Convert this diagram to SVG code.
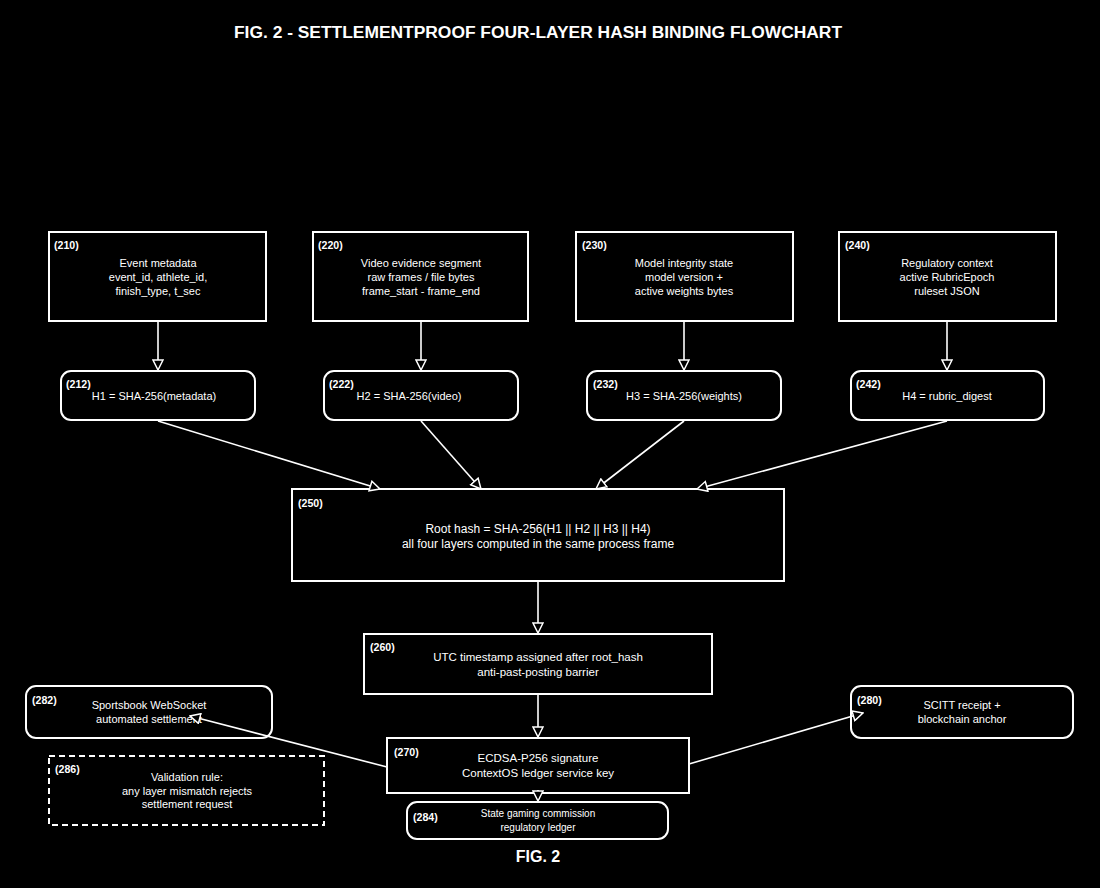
<svg xmlns="http://www.w3.org/2000/svg" width="1100" height="888" viewBox="0 0 1100 888">
<style>
.bx{fill:#000;stroke:#fff;stroke-width:2}
.ds{fill:#000;stroke:#fff;stroke-width:2;stroke-dasharray:6 4}
.t{font-family:"Liberation Sans",Arial,sans-serif;font-size:11px;fill:#fff;text-anchor:middle}
.m{font-size:11.5px}
.b{font-size:12px}
.s{font-family:"Liberation Sans",Arial,sans-serif;font-size:10px;fill:#fff;text-anchor:middle}
.l{font-family:"Liberation Sans",Arial,sans-serif;font-size:10.6px;font-weight:bold;fill:#fff}
.h{font-family:"Liberation Sans",Arial,sans-serif;font-size:17.4px;font-weight:bold;fill:#fff;text-anchor:middle}
.f{font-family:"Liberation Sans",Arial,sans-serif;font-size:16px;font-weight:bold;fill:#fff;text-anchor:middle}
.c{fill:none;stroke:#fff;stroke-width:1.6}
</style>
<defs>
<marker id="a" viewBox="0 0 12 12" refX="11" refY="6" markerWidth="12" markerHeight="12" markerUnits="userSpaceOnUse" orient="auto">
<path d="M1,1 L11,6 L1,11 Z" fill="#000" stroke="#fff" stroke-width="1.5"/>
</marker>
</defs>
<rect width="1100" height="888" fill="#000"/>
<text class="h" x="538" y="38">FIG. 2 - SETTLEMENTPROOF FOUR-LAYER HASH BINDING FLOWCHART</text>

<g id="n210"><rect class="bx" x="49" y="232" width="217" height="89"/>
<text class="l" x="54" y="249">(210)</text>
<text class="t" x="158" y="267">Event metadata</text><text class="t" x="158" y="281">event_id, athlete_id,</text><text class="t" x="158" y="295">finish_type, t_sec</text></g>

<g id="n220"><rect class="bx" x="313" y="232" width="215" height="89"/>
<text class="l" x="318" y="249">(220)</text>
<text class="t" x="421" y="267">Video evidence segment</text><text class="t" x="421" y="281">raw frames / file bytes</text><text class="t" x="421" y="295">frame_start - frame_end</text></g>

<g id="n230"><rect class="bx" x="576" y="232" width="217" height="89"/>
<text class="l" x="582" y="249">(230)</text>
<text class="t" x="684" y="267">Model integrity state</text><text class="t" x="684" y="281">model version +</text><text class="t" x="684" y="295">active weights bytes</text></g>

<g id="n240"><rect class="bx" x="839" y="232" width="217" height="89"/>
<text class="l" x="845" y="249">(240)</text>
<text class="t" x="947" y="267">Regulatory context</text><text class="t" x="947" y="281">active RubricEpoch</text><text class="t" x="947" y="295">ruleset JSON</text></g>

<g id="n212"><rect class="bx" x="61" y="371" width="194" height="49" rx="10"/>
<text class="l" x="66" y="388">(212)</text>
<text class="t" x="154" y="400">H1 = SHA-256(metadata)</text></g>

<g id="n222"><rect class="bx" x="324" y="371" width="194" height="49" rx="10"/>
<text class="l" x="329" y="388">(222)</text>
<text class="t" x="409" y="400">H2 = SHA-256(video)</text></g>

<g id="n232"><rect class="bx" x="587" y="371" width="194" height="49" rx="10"/>
<text class="l" x="593" y="388">(232)</text>
<text class="t" x="684" y="400">H3 = SHA-256(weights)</text></g>

<g id="n242"><rect class="bx" x="851" y="371" width="193" height="49" rx="10"/>
<text class="l" x="856" y="388">(242)</text>
<text class="t" x="947" y="400">H4 = rubric_digest</text></g>

<g id="n250"><rect class="bx" x="292" y="489" width="492" height="92"/>
<text class="l" x="298" y="507">(250)</text>
<text class="t b" x="538" y="533">Root hash = SHA-256(H1 || H2 || H3 || H4)</text>
<text class="t b" x="538" y="548">all four layers computed in the same process frame</text></g>

<g id="n260"><rect class="bx" x="364" y="634" width="348" height="60"/>
<text class="l" x="370" y="651">(260)</text>
<text class="t m" x="538" y="661">UTC timestamp assigned after root_hash</text>
<text class="t m" x="538" y="676">anti-past-posting barrier</text></g>

<g id="n270"><rect class="bx" x="387" y="738" width="302" height="55"/>
<text class="l" x="394" y="756">(270)</text>
<text class="t m" x="538" y="762">ECDSA-P256 signature</text>
<text class="t m" x="538" y="777">ContextOS ledger service key</text></g>

<g id="n284"><rect class="bx" x="407" y="802" width="261" height="37" rx="10"/>
<text class="l" x="413" y="821">(284)</text>
<text class="s" x="538" y="817">State gaming commission</text>
<text class="s" x="538" y="831">regulatory ledger</text></g>

<g id="n282"><rect class="bx" x="26" y="686" width="246" height="52" rx="10"/>
<text class="l" x="32" y="704">(282)</text>
<text class="t" x="149" y="709">Sportsbook WebSocket</text>
<text class="t" x="149" y="723">automated settlement</text></g>

<g id="n280"><rect class="bx" x="851" y="686" width="222" height="52" rx="10"/>
<text class="l" x="857" y="704">(280)</text>
<text class="t" x="962" y="709">SCITT receipt +</text>
<text class="t" x="962" y="723">blockchain anchor</text></g>

<g id="n286"><rect class="ds" x="49" y="756" width="275" height="69"/>
<text class="l" x="55" y="773">(286)</text>
<text class="t" x="187" y="781">Validation rule:</text>
<text class="t" x="187" y="795">any layer mismatch rejects</text>
<text class="t" x="187" y="808">settlement request</text></g>

<g id="connectors">
<line class="c" x1="158" y1="322" x2="158" y2="370" marker-end="url(#a)"/>
<line class="c" x1="421" y1="322" x2="421" y2="370" marker-end="url(#a)"/>
<line class="c" x1="684" y1="322" x2="684" y2="370" marker-end="url(#a)"/>
<line class="c" x1="947" y1="322" x2="947" y2="370" marker-end="url(#a)"/>
<line class="c" x1="158" y1="421" x2="380" y2="489" marker-end="url(#a)"/>
<line class="c" x1="421" y1="421" x2="481" y2="489" marker-end="url(#a)"/>
<line class="c" x1="684" y1="421" x2="596" y2="489" marker-end="url(#a)"/>
<line class="c" x1="947" y1="421" x2="697" y2="489" marker-end="url(#a)"/>
<line class="c" x1="538" y1="582" x2="538" y2="633" marker-end="url(#a)"/>
<line class="c" x1="538" y1="695" x2="538" y2="737" marker-end="url(#a)"/>
<line class="c" x1="538" y1="790" x2="538" y2="801" marker-end="url(#a)"/>
<line class="c" x1="387" y1="767" x2="190" y2="716" marker-end="url(#a)"/>
<line class="c" x1="689" y1="764" x2="863" y2="713" marker-end="url(#a)"/>
</g>

<text class="f" x="538" y="862">FIG. 2</text>
</svg>
